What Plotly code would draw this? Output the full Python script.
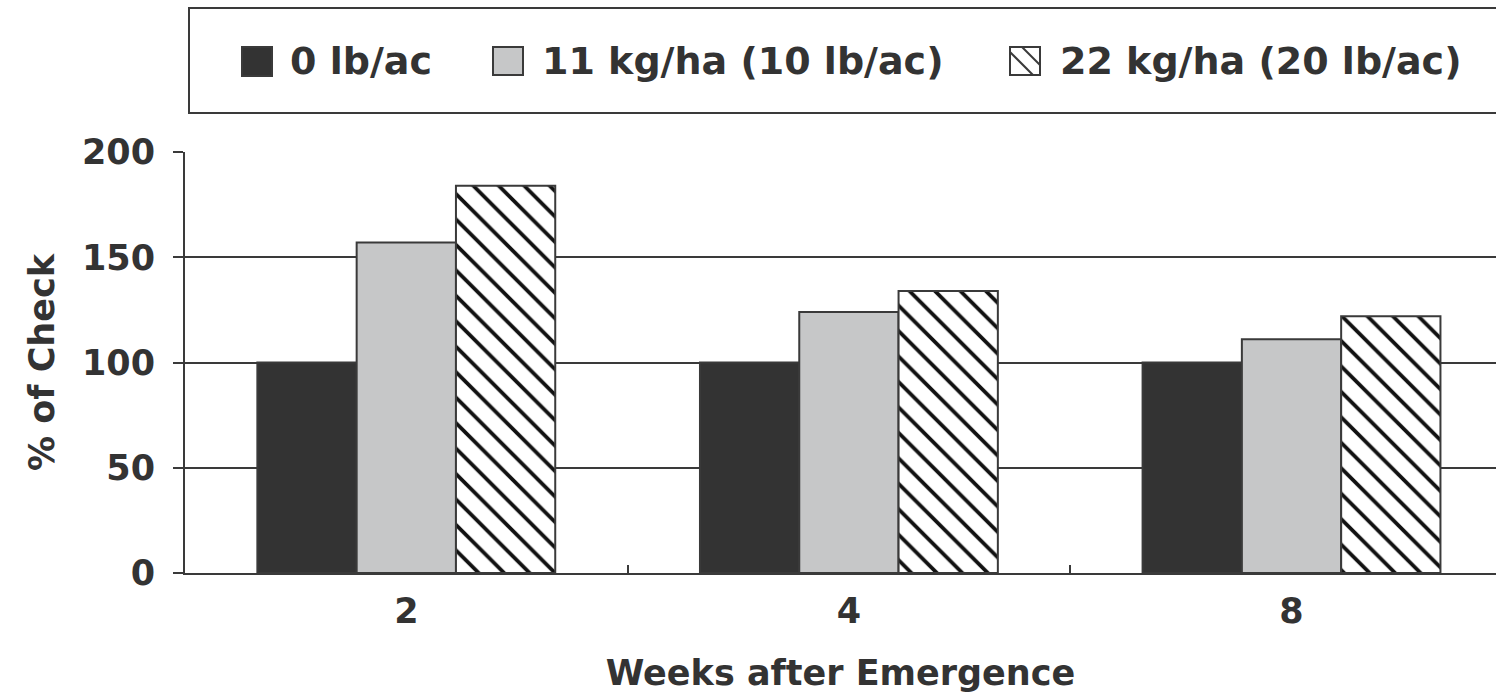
import plotly.graph_objects as go

categories = ["2", "4", "8"]
series_names = ["0 lb/ac", "11 kg/ha (10 lb/ac)", "22 kg/ha (20 lb/ac)"]
vals_0 = [100, 100, 100]
vals_11 = [157, 124, 111]
vals_22 = [184, 134, 122]
y_ticks = [0, 50, 100, 150, 200]

FONT = "DejaVu Sans"
TXT = "#333333"
LINE = "#3a3a3a"

W, H = 1496, 693
ML, MR, MT, MB = 185, 0, 152, 120


def px(x):
    return (x - ML) / (W - ML - MR)


def py(y):
    return (H - MB - y) / (H - MT - MB)


fig = go.Figure()
fig.add_trace(go.Bar(x=categories, y=vals_0, name=series_names[0],
                     marker=dict(color="#333333", line=dict(color=LINE, width=2))))
fig.add_trace(go.Bar(x=categories, y=vals_11, name=series_names[1],
                     marker=dict(color="#c6c7c8", line=dict(color=LINE, width=2))))
fig.add_trace(go.Bar(x=categories, y=vals_22, name=series_names[2],
                     marker=dict(color="white", line=dict(color=LINE, width=2),
                                 pattern=dict(shape="\\", fgcolor="#111111", bgcolor="white",
                                              fgopacity=1, size=18, solidity=0.21))))

# legend drawn manually (box, swatches, labels)
shapes = [
    dict(type="rect", xref="paper", yref="paper", x0=px(189), x1=px(1510), y0=py(113), y1=py(8),
         line=dict(color=LINE, width=2), fillcolor="rgba(0,0,0,0)", layer="above"),
    dict(type="rect", xref="paper", yref="paper", x0=px(242), x1=px(272), y0=py(76), y1=py(47),
         line=dict(color=LINE, width=2), fillcolor="#333333"),
    dict(type="rect", xref="paper", yref="paper", x0=px(493), x1=px(523), y0=py(75), y1=py(47),
         line=dict(color=LINE, width=2), fillcolor="#c6c7c8"),
    dict(type="rect", xref="paper", yref="paper", x0=px(1010), x1=px(1040), y0=py(75), y1=py(47),
         line=dict(color=LINE, width=2), fillcolor="white"),
    dict(type="line", xref="paper", yref="paper", x0=px(1010), y0=py(52), x1=px(1033), y1=py(75),
         line=dict(color=LINE, width=2)),
    dict(type="line", xref="paper", yref="paper", x0=px(1022), y0=py(47), x1=px(1040), y1=py(65),
         line=dict(color=LINE, width=2)),
]
annotations = []
for name, x0 in zip(series_names, [288, 540, 1058]):
    annotations.append(dict(text=name, xref="paper", yref="paper", x=px(x0), y=py(61),
                            xanchor="left", yanchor="middle", showarrow=False,
                            font=dict(family=FONT, size=38, color=TXT, weight="bold")))

fig.update_layout(
    width=W, height=H,
    margin=dict(l=ML, r=MR, t=MT, b=MB, autoexpand=False),
    paper_bgcolor="white", plot_bgcolor="white",
    barmode="group", bargap=0.327, bargroupgap=0,
    showlegend=False,
    shapes=shapes, annotations=annotations,
    font=dict(family=FONT, color=TXT, weight="bold"),
)
fig.update_xaxes(
    type="category", range=[-0.5, 2.462],
    showline=True, linecolor=LINE, linewidth=2,
    ticks="inside", tickson="boundaries", ticklen=8, tickwidth=2, tickcolor=LINE,
    tickfont=dict(family=FONT, size=35, color=TXT, weight="bold"),
    ticklabelstandoff=6,
    showgrid=False,
    title=dict(text="Weeks after Emergence", standoff=32,
               font=dict(family=FONT, size=35, color=TXT, weight="bold")),
)
fig.update_yaxes(
    range=[0, 200], tickvals=y_ticks,
    showline=True, linecolor=LINE, linewidth=2,
    ticks="outside", ticklen=10, tickwidth=2, tickcolor=LINE,
    tickfont=dict(family=FONT, size=35, color=TXT, weight="bold"),
    ticklabelstandoff=11,
    showgrid=True, gridcolor=LINE, gridwidth=2, zeroline=False,
    title=dict(text="% of Check", standoff=17,
               font=dict(family=FONT, size=35, color=TXT, weight="bold")),
)

fig.write_html("out.html")
